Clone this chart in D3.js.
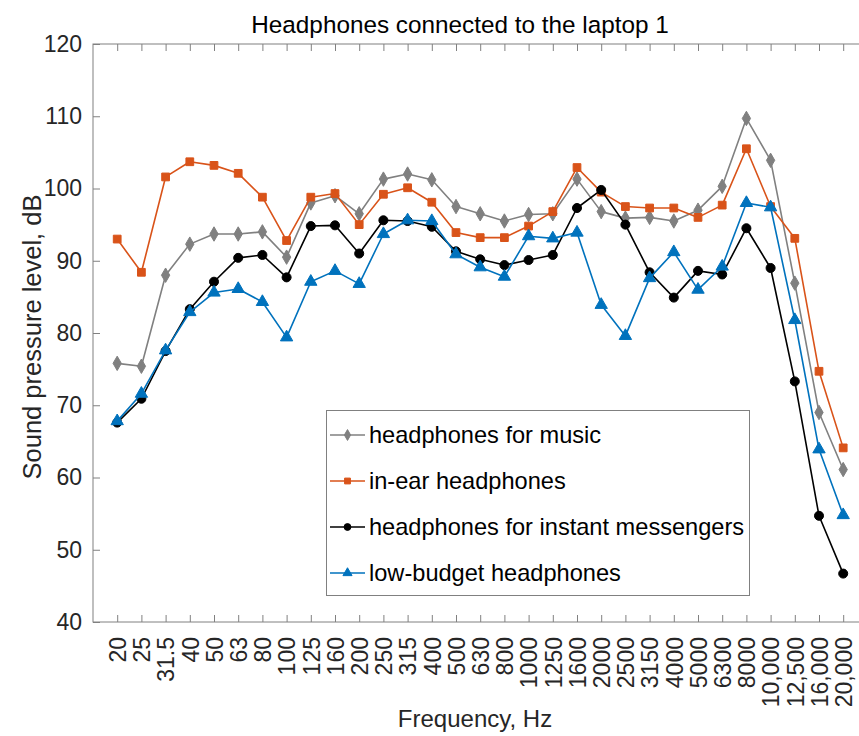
<!DOCTYPE html>
<html>
<head>
<meta charset="utf-8">
<script src="https://cdn.jsdelivr.net/npm/d3@7/dist/d3.min.js"></script>
<style>
  html, body { margin: 0; padding: 0; background: #fff; }
  svg { display: block; font-family: "Liberation Sans", Arial, sans-serif; }
</style>
</head>
<body>
<svg id="chart" width="859" height="736"></svg>
<script>
// One-third-octave band centre frequencies, Hz
const frequencies = ["20", "25", "31.5", "40", "50", "63", "80", "100", "125", "160", "200",
  "250", "315", "400", "500", "630", "800", "1000", "1250", "1600", "2000", "2500", "3150",
  "4000", "5000", "6300", "8000", "10,000", "12,500", "16,000", "20,000"];

// Sound pressure level per band, dB
const musicHeadphones = [75.8, 75.4, 88.0, 92.3, 93.7, 93.7, 94.0, 90.5, 98.0, 99.0, 96.5,
  101.3, 102.0, 101.2, 97.5, 96.5, 95.5, 96.4, 96.5, 101.3, 96.8, 95.9, 96.0, 95.5, 97.0,
  100.3, 109.7, 103.9, 86.9, 69.0, 61.1];
const inEarHeadphones = [93.0, 88.4, 101.6, 103.7, 103.2, 102.1, 98.8, 92.8, 98.8, 99.3, 95.0,
  99.2, 100.1, 98.1, 93.9, 93.2, 93.2, 94.8, 96.8, 102.9, 99.5, 97.5, 97.3, 97.3, 96.0,
  97.7, 105.5, 97.5, 93.1, 74.7, 64.1];
const messengerHeadphones = [67.6, 70.9, 77.5, 83.3, 87.1, 90.4, 90.8, 87.7, 94.8, 94.9, 91.0,
  95.6, 95.5, 94.7, 91.3, 90.2, 89.4, 90.1, 90.8, 97.3, 99.8, 95.0, 88.4, 84.9, 88.6,
  88.1, 94.5, 89.0, 73.3, 54.7, 46.7];
const budgetHeadphones = [67.8, 71.6, 77.6, 82.9, 85.6, 86.1, 84.3, 79.4, 87.1, 88.6, 86.8,
  93.7, 95.6, 95.5, 90.9, 89.1, 87.8, 93.4, 93.1, 93.9, 83.9, 79.6, 87.6, 91.2, 86.0,
  89.2, 98.0, 97.4, 81.8, 63.9, 54.8];

const seriesNames = ["headphones for music", "in-ear headphones",
  "headphones for instant messengers", "low-budget headphones"];
const yTicks = [40, 50, 60, 70, 80, 90, 100, 110, 120];

const series = [
  { name: seriesNames[0], values: musicHeadphones, color: "#808080", marker: d3.symbolDiamond, size: 60, lsize: 34 },
  { name: seriesNames[1], values: inEarHeadphones, color: "#D95319", marker: d3.symbolSquare, size: 60, lsize: 34 },
  { name: seriesNames[2], values: messengerHeadphones, color: "#000000", marker: d3.symbolCircle, size: 64, lsize: 36 },
  { name: seriesNames[3], values: budgetHeadphones, color: "#0072BD", marker: d3.symbolTriangle, size: 66, lsize: 36 }
];

const svg = d3.select("#chart");
const plotLeft = 93, plotTop = 44, plotBottom = 622;
const step = 24.2;
const plotRight = plotLeft + step * (frequencies.length + 1);

const x = d3.scaleLinear().domain([0, frequencies.length + 1]).range([plotLeft, plotRight]);
const y = d3.scaleLinear().domain([40, 120]).range([plotBottom, plotTop]);
const idx = d3.range(1, frequencies.length + 1);

const axisColor = "#808080";
const textColor = "#262626";
const fontSize = 23;

// Plot box
svg.append("rect")
  .attr("x", plotLeft).attr("y", plotTop)
  .attr("width", plotRight - plotLeft).attr("height", plotBottom - plotTop)
  .attr("fill", "none").attr("stroke", axisColor).attr("stroke-width", 1);

// Bottom axis with rotated band labels
const gx = svg.append("g").attr("transform", `translate(0,${plotBottom})`)
  .call(d3.axisBottom(x).tickValues(idx).tickSizeInner(-7).tickSizeOuter(0)
    .tickPadding(12).tickFormat(i => frequencies[i - 1]));
gx.select(".domain").remove();
gx.selectAll(".tick line").attr("stroke", axisColor);
gx.selectAll(".tick text")
  .attr("fill", textColor).attr("font-size", fontSize)
  .attr("transform", "rotate(-90)")
  .attr("text-anchor", "end")
  .attr("x", -15).attr("y", 0).attr("dy", "0.36em");

// Top ticks
const gxt = svg.append("g").attr("transform", `translate(0,${plotTop})`)
  .call(d3.axisTop(x).tickValues(idx).tickSizeInner(-7).tickSizeOuter(0).tickFormat(""));
gxt.select(".domain").remove();
gxt.selectAll(".tick line").attr("stroke", axisColor);

// Left axis
const gy = svg.append("g").attr("transform", `translate(${plotLeft},0)`)
  .call(d3.axisLeft(y).tickValues(yTicks).tickSizeInner(-7).tickSizeOuter(0).tickPadding(11));
gy.select(".domain").remove();
gy.selectAll(".tick line").attr("stroke", axisColor);
gy.selectAll(".tick text").attr("fill", textColor).attr("font-size", fontSize);

// Right ticks
const gyr = svg.append("g").attr("transform", `translate(${plotRight},0)`)
  .call(d3.axisRight(y).tickValues(yTicks).tickSizeInner(-7).tickSizeOuter(0).tickFormat(""));
gyr.select(".domain").remove();
gyr.selectAll(".tick line").attr("stroke", axisColor);

// Title and axis labels
svg.append("text").attr("x", 460).attr("y", 33)
  .attr("text-anchor", "middle").attr("font-size", 24.3).attr("fill", "#000")
  .text("Headphones connected to the laptop 1");
svg.append("text").attr("x", 475).attr("y", 727)
  .attr("text-anchor", "middle").attr("font-size", 24).attr("fill", textColor)
  .text("Frequency, Hz");
svg.append("text")
  .attr("transform", `translate(41,337) rotate(-90)`)
  .attr("text-anchor", "middle").attr("font-size", 25.5).attr("fill", textColor)
  .text("Sound pressure level, dB");

// Series lines and markers
const line = d3.line().x((d, i) => x(i + 1)).y(d => y(d));
series.forEach(s => {
  const g = svg.append("g");
  g.append("path").datum(s.values)
    .attr("d", line).attr("fill", "none")
    .attr("stroke", s.color).attr("stroke-width", 1.6).attr("stroke-linejoin", "round");
  const shape = d3.symbol().type(s.marker).size(s.size);
  g.selectAll("path.m").data(s.values).join("path").attr("class", "m")
    .attr("d", shape)
    .attr("transform", (d, i) => `translate(${x(i + 1)},${y(d)})`)
    .attr("fill", s.color).attr("stroke", s.color).attr("stroke-width", 1);
});

// Legend
const lg = svg.append("g");
lg.append("rect").attr("x", 326.5).attr("y", 410.5).attr("width", 423).attr("height", 185)
  .attr("fill", "#fff").attr("stroke", axisColor).attr("stroke-width", 1);
const rowY = [435, 481, 527, 573];
series.forEach((s, k) => {
  const ry = rowY[k];
  lg.append("line").attr("x1", 330).attr("x2", 365).attr("y1", ry).attr("y2", ry)
    .attr("stroke", s.color).attr("stroke-width", 1.6);
  lg.append("path").attr("d", d3.symbol().type(s.marker).size(s.lsize))
    .attr("transform", `translate(347.5,${ry})`).attr("fill", s.color).attr("stroke", s.color);
  lg.append("text").attr("x", 369).attr("y", ry).attr("dy", "0.35em")
    .attr("font-size", 23.6).attr("fill", "#000").text(s.name);
});
</script>
</body>
</html>
